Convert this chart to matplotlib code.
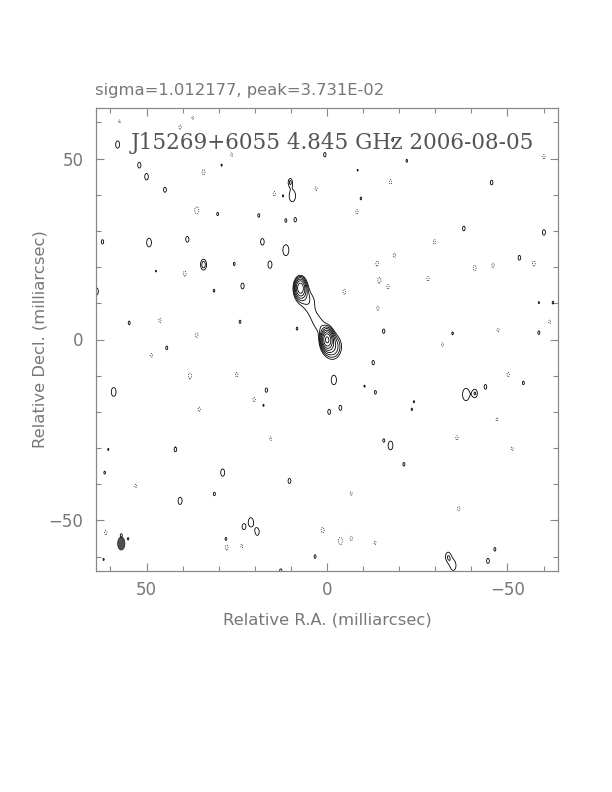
import numpy as np
import matplotlib
matplotlib.use("Agg")
import matplotlib.pyplot as plt
from matplotlib.patches import Ellipse

# source model components (RA, Dec in mas, flux in mJy, fwhm in mas)
comp_ra = [0.0, -1.5, 7.4, 6.8, 4.2, 5.0, 3.8, 2.2, 1.5]
comp_dec = [0.0, -2.0, 14.4, 12.5, 11.5, 9.0, 6.5, 4.5, 2.5]
comp_flux = [33.0, 9.0, 20.0, 4.0, 1.9, 1.9, 1.9, 1.9, 1.9]
comp_fx = [2.2, 4.0, 2.3, 3.5, 4.5, 4.5, 4.5, 4.5, 4.5]
comp_fy = [3.8, 5.5, 4.0, 5.0, 4.5, 4.5, 4.5, 4.5, 4.5]

# positive noise islands: position, contour height (mas), peak in units of lowest level
pos_ra = [58.0, 52.0, 50.0, 44.9, 30.3, 62.2, 49.3, 38.7, 34.2, 25.7, 47.4, 23.4, 31.3,
          63.9, 54.8, 24.1, 29.2, -18.2, 0.6, -8.5, 10.2, 9.6, 12.2, -9.4, 18.9, 11.4,
          8.8, 17.9, 11.4, 15.8, 8.3, -15.7, -22.1, -45.6, -37.9, -60.1, -53.3, -58.7,
          -62.6, -34.8, -58.7, 44.4, 59.1, 42.0, 60.6, 61.6, 28.9, 31.2, 40.7, 23.1,
          21.1, 28.0, 55.1, 61.9, 57.0, -12.8, -1.9, -10.4, -13.4, 16.8, 17.6, -0.6,
          -3.7, -15.7, -17.6, -21.3, 10.4, 19.3, 3.3, 12.8, -38.5, -41.1, -43.9, -54.4,
          -24.1, -23.5, -46.5, -44.6, -33.5, -35.0]
pos_dec = [53.9, 48.2, 45.0, 41.4, 34.7, 27.0, 26.8, 27.7, 20.7, 20.9, 18.9, 14.8, 13.5,
           13.3, 4.6, 4.9, 48.2, 55.2, 51.1, 46.8, 43.6, 39.7, 39.7, 39.0, 34.3, 32.9,
           33.1, 27.0, 24.7, 20.7, 3.0, 2.3, 49.4, 43.4, 30.7, 29.6, 22.6, 10.2,
           10.2, 1.7, 1.9, -2.3, -14.5, -30.4, -30.4, -36.8, -36.8, -42.7, -44.6, -51.8,
           -50.5, -55.2, -55.1, -60.8, -54.2, -6.4, -11.2, -12.9, -14.6, -14.0, -18.2, -20.0,
           -18.9, -27.9, -29.3, -34.5, -39.1, -53.2, -60.0, -64.0, -15.2, -14.9, -13.1, -12.0,
           -17.2, -19.3, -58.0, -61.2, -60.0, -62.5]
pos_size = [2.0, 1.6, 1.8, 1.4, 0.9, 1.2, 2.4, 1.6, 3.0, 0.9, 0.5, 1.6, 0.8,
            2.0, 1.0, 0.9, 0.6, 0.9, 1.2, 0.5, 1.5, 3.2, 0.5, 0.8, 1.0, 1.0,
            1.2, 1.8, 3.0, 2.0, 0.8, 1.2, 0.8, 1.3, 1.3, 1.5, 1.3, 0.6,
            0.8, 0.8, 1.0, 1.0, 2.4, 1.3, 0.6, 0.8, 2.0, 1.0, 2.0, 1.4,
            2.5, 1.0, 0.7, 0.6, 1.0, 1.2, 2.6, 0.6, 1.0, 1.2, 0.6, 1.4,
            1.4, 0.8, 2.4, 1.0, 1.4, 1.8, 1.0, 1.2, 3.4, 1.8, 1.3, 1.0,
            0.6, 0.7, 1.0, 1.4, 2.2, 2.6]
pos_peak = [1.3] * 8 + [1.7] + [1.3] * (len(pos_ra) - 9)

# negative noise islands (dotted)
neg_ra = [40.7, 34.2, 36.1, 39.4, 46.3, 36.1, 26.4, 14.6, 3.0, -17.6, -8.3, -13.9, -18.7,
          -14.5, -16.9, -4.8, -14.1, -60.1, -29.8, -40.9, -46.0, -28.0, -57.3, -61.7, -47.4,
          38.0, 25.0, 35.4, 53.0, 61.3, 27.8, 23.6, 48.6, 20.2, 15.6, -6.7, 1.2, -3.7,
          -6.7, -13.3, -32.0, -50.2, -47.1, -36.0, -51.3, -36.5, 57.5, 37.2]
neg_dec = [58.7, 46.3, 35.7, 18.2, 5.3, 1.2, 51.1, 40.3, 41.7, 43.6, 35.3, 21.0, 23.3,
           16.4, 14.6, 13.2, 8.6, 50.5, 27.0, 19.8, 20.5, 16.8, 21.0, 4.9, 2.6,
           -10.1, -9.7, -19.3, -40.5, -53.4, -57.5, -57.1, -4.4, -16.6, -27.4, -42.6, -52.7, -55.7,
           -55.0, -56.2, -1.4, -9.7, -22.1, -27.2, -30.2, -46.8, 60.3, 61.3]
neg_size = [1.2, 1.4, 2.0, 1.4, 1.2, 1.2, 1.0, 1.2, 1.0, 1.2, 1.2, 1.4, 1.2,
            1.6, 1.2, 1.4, 1.2, 1.2, 1.2, 1.5, 1.2, 1.2, 1.4, 1.0, 1.0,
            1.6, 1.2, 1.2, 1.0, 1.2, 1.4, 1.0, 1.0, 1.2, 1.0, 1.0, 1.5, 2.0,
            1.2, 1.0, 1.0, 1.2, 1.0, 1.2, 1.0, 1.2, 0.8, 0.8]

# beam
beam_ra, beam_dec, beam_w, beam_h = 57.0, -56.4, 2.0, 3.6

base = 3.0  # lowest contour, mJy
levels = [-base] + [base * np.sqrt(2) ** k for k in range(8)]


def gauss(X, Y, x0, y0, amp, sx, sy):
    return amp * np.exp(-0.5 * (((X - x0) / sx) ** 2 + ((Y - y0) / sy) ** 2))


g = np.arange(-64, 64.001, 0.125)
X, Y = np.meshgrid(g, g)
img = np.zeros_like(X)
for i in range(len(comp_ra)):
    img += gauss(X, Y, comp_ra[i], comp_dec[i], comp_flux[i],
                 comp_fx[i] / 2.3548, comp_fy[i] / 2.3548)
for i in range(len(pos_ra)):
    sy = pos_size[i] / 2 / np.sqrt(2 * np.log(pos_peak[i]))
    img += gauss(X, Y, pos_ra[i], pos_dec[i], base * pos_peak[i], sy * 0.55, sy)
for i in range(len(neg_ra)):
    sy = neg_size[i] / 2 / np.sqrt(2 * np.log(1.3))
    img -= gauss(X, Y, neg_ra[i], neg_dec[i], base * 1.3, sy * 0.55, sy)

fig = plt.figure(figsize=(6.12, 7.92), dpi=100)
ax = fig.add_axes([96 / 612, 1 - 571 / 792, 462 / 612, 463 / 792])
ax.contour(X, Y, img, levels=levels, colors="black", linewidths=0.6,
           linestyles=[":"] + ["-"] * 8)
ax.add_patch(Ellipse((beam_ra, beam_dec), beam_w, beam_h, facecolor="#505050",
                     edgecolor="#303030", linewidth=0.6))

ax.set_xlim(64, -64)
ax.set_ylim(-64, 64)
ax.set_xticks([50, 0, -50])
ax.set_yticks([-50, 0, 50])
ax.set_xticks(np.arange(-60, 61, 10), minor=True)
ax.set_yticks(np.arange(-60, 61, 10), minor=True)
ax.tick_params(which="both", direction="in", top=True, right=True, color="#888888",
               labelcolor="#777777", labelsize=12)
ax.tick_params(which="major", length=6, width=0.8)
ax.tick_params(which="minor", length=3.6, width=0.8)
ax.tick_params(axis="x", pad=7)
ax.tick_params(axis="y", pad=9)
for s in ax.spines.values():
    s.set_color("#888888")
    s.set_linewidth(0.9)

ax.set_xlabel("Relative R.A. (milliarcsec)", fontsize=11.8, color="#777777", labelpad=10)
ax.set_ylabel("Relative Decl. (milliarcsec)", fontsize=11.8, color="#777777", labelpad=1)

ax.text(0.511, 0.925, "J15269+6055 4.845 GHz 2006-08-05", transform=ax.transAxes,
        ha="center", va="center", fontsize=15.5, family="DejaVu Serif", color="#555555")
fig.text(95 / 612, 1 - 90 / 792, "sigma=1.012177, peak=3.731E-02", ha="left", va="center",
         fontsize=11.8, color="#777777")

fig.savefig("out.png", dpi=100)
